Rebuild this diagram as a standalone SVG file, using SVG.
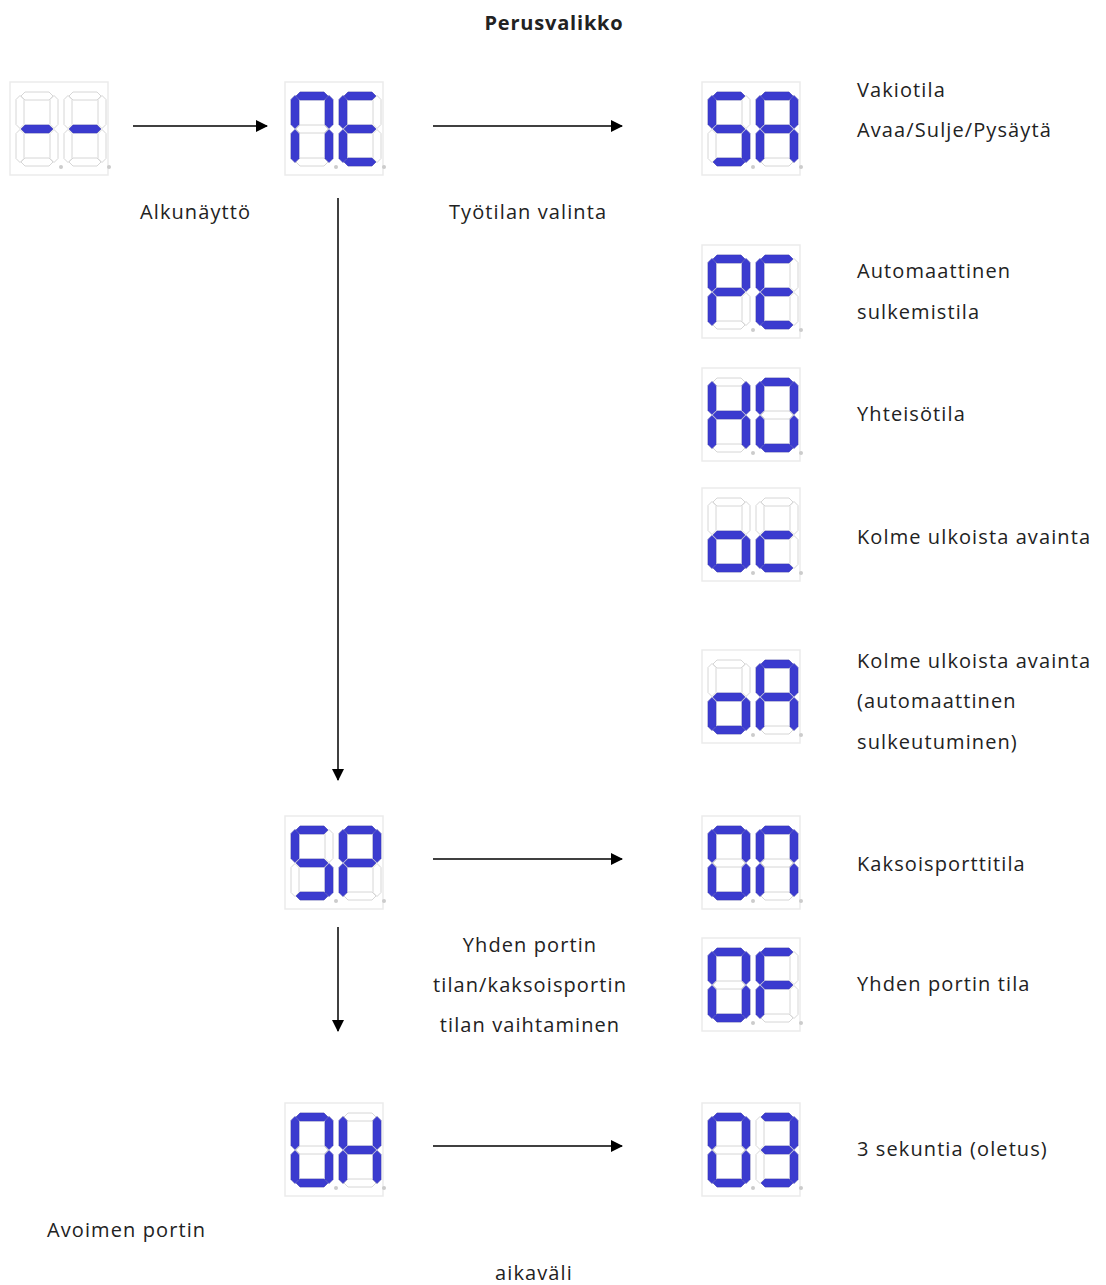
<svg xmlns="http://www.w3.org/2000/svg" xmlns:xlink="http://www.w3.org/1999/xlink" width="1106" height="1285" viewBox="0 0 1106 1285">
<style>
.t{font-family:"Open Sans","Liberation Sans",sans-serif;font-size:20px;letter-spacing:1.1px;fill:#222}
.b{font-weight:bold;letter-spacing:0.8px}
.m{text-anchor:middle}
.off{fill:#fff;stroke:#d6d6d6;stroke-width:1}
.on{fill:#3b3bcf;stroke:#3434b8;stroke-width:0.5}
.ln{stroke:#000;stroke-width:1.5;fill:none;marker-end:url(#ah)}
</style>
<defs>
<marker id="ah" viewBox="0 0 12 12" refX="11" refY="6" markerWidth="12" markerHeight="12" markerUnits="userSpaceOnUse" orient="auto">
<path d="M0,0 L12,6 L0,12 Z" fill="#000"/>
</marker>
<polygon id="h" points="0,4 4,0 28,0 32,4 28,8 4,8"/>
<polygon id="v" points="4,0 8,4 8,29 4,33 0,29 0,4"/>
<use id="sa" href="#h" x="5" y="0"/>
<use id="sb" href="#v" x="34" y="3.5"/>
<use id="sc" href="#v" x="34" y="37.5"/>
<use id="sd" href="#h" x="5" y="66"/>
<use id="se" href="#v" x="0" y="37.5"/>
<use id="sf" href="#v" x="0" y="3.5"/>
<use id="sg" href="#h" x="5" y="33"/>
<g id="d0" class="off"><use href="#sa"/><use href="#sb"/><use href="#sc"/><use href="#sd"/><use href="#se"/><use href="#sf"/><use href="#sg"/><circle cx="45" cy="75" r="2" fill="#ccc" stroke="none"/></g>
<g id="disp"><rect x="0" y="0" width="98" height="93" fill="#fff" stroke="#ebebeb" stroke-width="1.5"/><use href="#d0" x="6" y="10"/><use href="#d0" x="54" y="10"/></g>
<g id="cDash" class="on"><use href="#sg"/></g>
<g id="cn" class="on"><use href="#sa"/><use href="#sb"/><use href="#sc"/><use href="#se"/><use href="#sf"/></g>
<g id="cE" class="on"><use href="#sa"/><use href="#sd"/><use href="#se"/><use href="#sf"/><use href="#sg"/></g>
<g id="cS" class="on"><use href="#sa"/><use href="#sc"/><use href="#sd"/><use href="#sf"/><use href="#sg"/></g>
<g id="cA" class="on"><use href="#sa"/><use href="#sb"/><use href="#sc"/><use href="#se"/><use href="#sf"/><use href="#sg"/></g>
<g id="cP" class="on"><use href="#sa"/><use href="#sb"/><use href="#se"/><use href="#sf"/><use href="#sg"/></g>
<g id="cH" class="on"><use href="#sb"/><use href="#sc"/><use href="#se"/><use href="#sf"/><use href="#sg"/></g>
<g id="cO" class="on"><use href="#sa"/><use href="#sb"/><use href="#sc"/><use href="#sd"/><use href="#se"/><use href="#sf"/></g>
<g id="co" class="on"><use href="#sc"/><use href="#sd"/><use href="#se"/><use href="#sg"/></g>
<g id="cc" class="on"><use href="#sd"/><use href="#se"/><use href="#sg"/></g>
<g id="cF" class="on"><use href="#sa"/><use href="#se"/><use href="#sf"/><use href="#sg"/></g>
<g id="c3" class="on"><use href="#sa"/><use href="#sb"/><use href="#sc"/><use href="#sd"/><use href="#sg"/></g>
</defs>
<rect width="1106" height="1285" fill="#fff"/>
<text class="t b m" x="554" y="30">Perusvalikko</text>

<g id="connectors">
<line class="ln" x1="133" y1="126" x2="267" y2="126"/>
<line class="ln" x1="433" y1="126" x2="622" y2="126"/>
<line class="ln" x1="338" y1="198" x2="338" y2="780"/>
<line class="ln" x1="433" y1="859" x2="622" y2="859"/>
<line class="ln" x1="338" y1="927" x2="338" y2="1031"/>
<line class="ln" x1="433" y1="1146" x2="622" y2="1146"/>
</g>

<g id="n-start"><use href="#disp" x="10" y="82"/><use href="#cDash" x="16" y="92"/><use href="#cDash" x="64" y="92"/>
<text class="t" x="140" y="219">Alkunäyttö</text></g>
<g id="n-nE"><use href="#disp" x="285" y="82"/><use href="#cn" x="291" y="92"/><use href="#cE" x="339" y="92"/>
<text class="t" x="449" y="219">Työtilan valinta</text></g>
<g id="n-SA"><use href="#disp" x="702" y="82"/><use href="#cS" x="708" y="92"/><use href="#cA" x="756" y="92"/>
<text class="t" x="857" y="97">Vakiotila</text><text class="t" x="857" y="137">Avaa/Sulje/Pysäytä</text></g>
<g id="n-PE"><use href="#disp" x="702" y="245"/><use href="#cP" x="708" y="255"/><use href="#cE" x="756" y="255"/>
<text class="t" x="857" y="278">Automaattinen</text><text class="t" x="857" y="319">sulkemistila</text></g>
<g id="n-HO"><use href="#disp" x="702" y="368"/><use href="#cH" x="708" y="378"/><use href="#cO" x="756" y="378"/>
<text class="t" x="857" y="421">Yhteisötila</text></g>
<g id="n-oc"><use href="#disp" x="702" y="488"/><use href="#co" x="708" y="498"/><use href="#cc" x="756" y="498"/>
<text class="t" x="857" y="544">Kolme ulkoista avainta</text></g>
<g id="n-oA"><use href="#disp" x="702" y="650"/><use href="#co" x="708" y="660"/><use href="#cA" x="756" y="660"/>
<text class="t" x="857" y="668">Kolme ulkoista avainta</text><text class="t" x="857" y="708">(automaattinen</text><text class="t" x="857" y="749">sulkeutuminen)</text></g>
<g id="n-SP"><use href="#disp" x="285" y="816"/><use href="#cS" x="291" y="826"/><use href="#cP" x="339" y="826"/>
<text class="t m" x="530" y="952">Yhden portin</text><text class="t m" x="530" y="992">tilan/kaksoisportin</text><text class="t m" x="530" y="1032">tilan vaihtaminen</text></g>
<g id="n-On"><use href="#disp" x="702" y="816"/><use href="#cO" x="708" y="826"/><use href="#cn" x="756" y="826"/>
<text class="t" x="857" y="871">Kaksoisporttitila</text></g>
<g id="n-OF"><use href="#disp" x="702" y="938"/><use href="#cO" x="708" y="948"/><use href="#cF" x="756" y="948"/>
<text class="t" x="857" y="991">Yhden portin tila</text></g>
<g id="n-OH"><use href="#disp" x="285" y="1103"/><use href="#cO" x="291" y="1113"/><use href="#cH" x="339" y="1113"/>
<text class="t" x="47" y="1237">Avoimen portin</text><text class="t m" x="534" y="1280">aikaväli</text></g>
<g id="n-O3"><use href="#disp" x="702" y="1103"/><use href="#cO" x="708" y="1113"/><use href="#c3" x="756" y="1113"/>
<text class="t" x="857" y="1156">3 sekuntia (oletus)</text></g>
</svg>
